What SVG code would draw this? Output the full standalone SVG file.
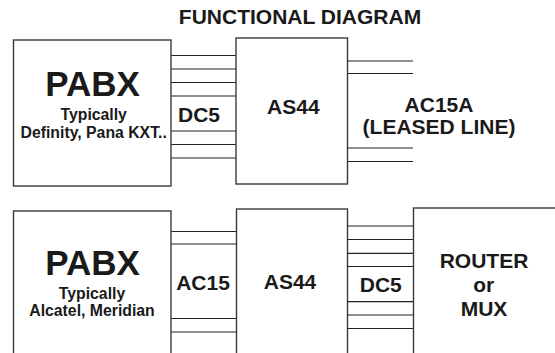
<svg xmlns="http://www.w3.org/2000/svg" width="555" height="353" viewBox="0 0 555 353">
<style>
.box{fill:#fff;stroke:#3a3a3a;stroke-width:1.4}
.wire{stroke:#222;stroke-width:1.2;fill:none}
text{font-family:"Liberation Sans",Arial,sans-serif;font-weight:bold;fill:#1a1a1a;text-anchor:middle}
.big{font-size:35px}
.lbl{font-size:21px}
.sm{font-size:15.8px}
</style>
<rect width="555" height="353" fill="#fff"/>
<text id="title" class="lbl" x="300" y="24">FUNCTIONAL DIAGRAM</text>
<g id="connectors">
<path class="wire" d="M171 55.5H236M171 69H236M171 82.5H236M171 96H236M171 131H236M171 144.5H236M171 158H236"/>
<path class="wire" d="M347.5 61H413M347.5 73.5H413M347.5 148H413M347.5 161.5H413"/>
<path class="wire" d="M171 231.5H236.5M171 244H236.5M171 318.5H236.5M171 332H236.5"/>
<path class="wire" d="M347.5 226H413.5M347.5 239.5H413.5M347.5 253.3H413.5M347.5 266.5H413.5M347.5 301.7H413.5M347.5 315H413.5M347.5 328.5H413.5"/>
<text class="lbl" x="199" y="121.7">DC5</text>
<text class="lbl" x="439" y="111.7">AC15A</text>
<text class="lbl" x="439" y="134.3">(LEASED LINE)</text>
<text class="lbl" x="203" y="290">AC15</text>
<text class="lbl" x="380.8" y="291.7">DC5</text>
</g>
<g id="pabx1">
<rect class="box" x="13.5" y="40" width="157.5" height="146"/>
<text class="big" x="92.5" y="96">PABX</text>
<text class="sm" x="93.7" y="120">Typically</text>
<text class="sm" x="93.7" y="137.7">Definity, Pana KXT..</text>
</g>
<g id="as44a">
<rect class="box" x="236" y="38" width="111.5" height="146"/>
<text class="lbl" x="293.3" y="114">AS44</text>
</g>
<g id="pabx2">
<rect class="box" x="13.5" y="211" width="157.5" height="160"/>
<text class="big" x="92.5" y="275">PABX</text>
<text class="sm" x="92" y="299">Typically</text>
<text class="sm" x="92" y="315.7">Alcatel, Meridian</text>
</g>
<g id="as44b">
<rect class="box" x="236.5" y="209" width="111" height="160"/>
<text class="lbl" x="290" y="289">AS44</text>
</g>
<g id="router">
<rect class="box" x="413.5" y="208" width="160" height="160"/>
<text class="lbl" x="484" y="267.7">ROUTER</text>
<text class="lbl" x="483.7" y="291.7">or</text>
<text class="lbl" x="484" y="315.7">MUX</text>
</g>
</svg>
